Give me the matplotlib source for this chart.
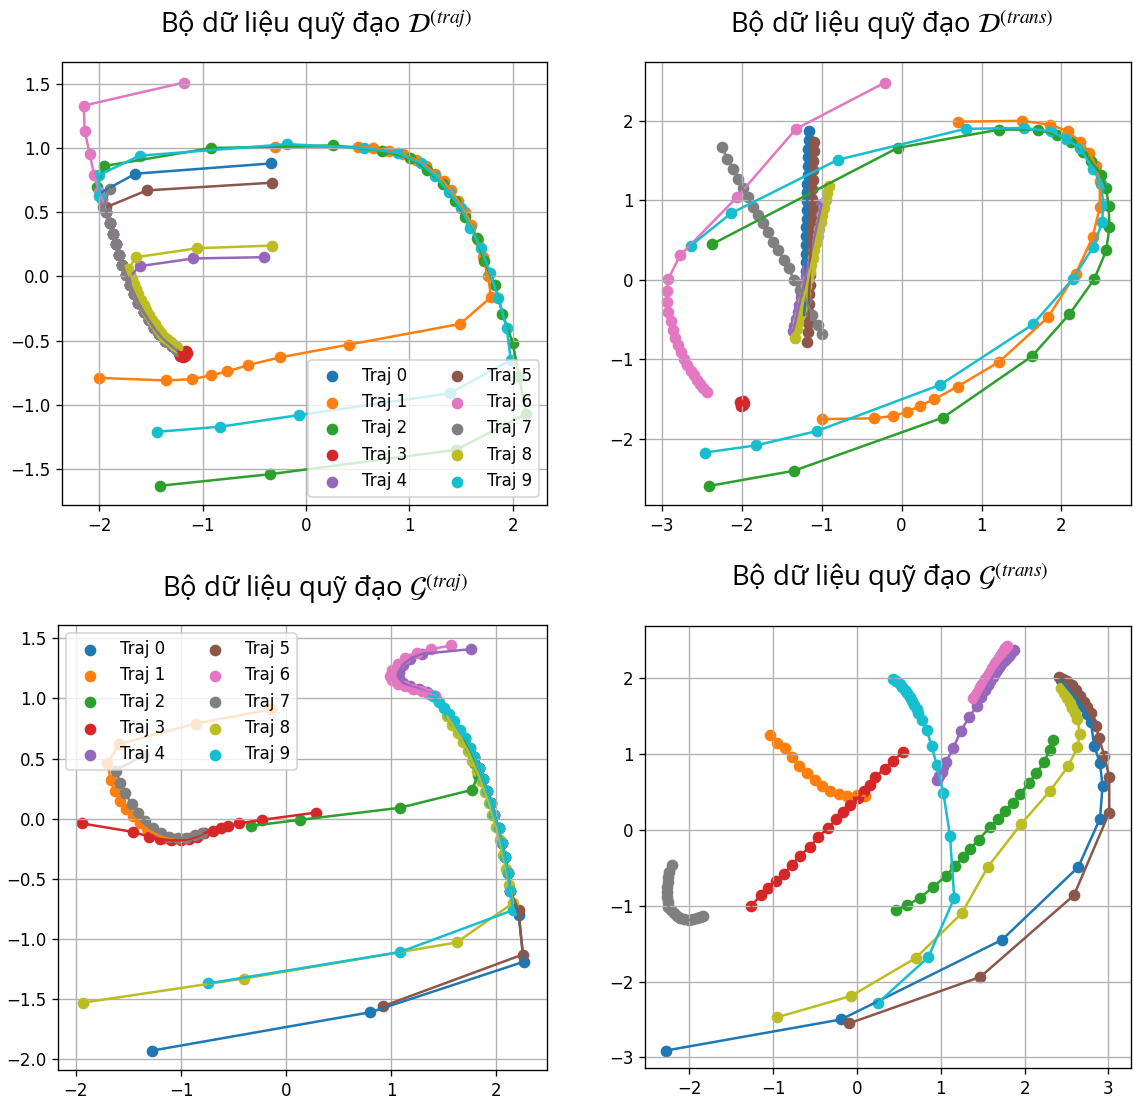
import matplotlib
matplotlib.use("Agg")
import matplotlib.pyplot as plt

plt.rcParams["mathtext.fontset"] = "stix"

COLORS = ["#1f77b4", "#ff7f0e", "#2ca02c", "#d62728", "#9467bd",
          "#8c564b", "#e377c2", "#7f7f7f", "#bcbd22", "#17becf"]
LABELS = [f"Traj {i}" for i in range(10)]

TITLES = [
    r"Bộ dữ liệu quỹ đạo $\mathcal{D}^{(traj)}$",
    r"Bộ dữ liệu quỹ đạo $\mathcal{D}^{(trans)}$",
    r"Bộ dữ liệu quỹ đạo $\mathcal{G}^{(traj)}$",
    r"Bộ dữ liệu quỹ đạo $\mathcal{G}^{(trans)}$",
]

# ---------------------------------------------------------------------------
# Panel A : D(traj)
# ---------------------------------------------------------------------------
# shared descending path on the left
CA_X = [-1.97, -1.93, -1.90, -1.87, -1.84, -1.81, -1.78, -1.74, -1.70, -1.66,
        -1.62, -1.57, -1.52, -1.47, -1.42, -1.36, -1.30, -1.25]
CA_Y = [0.60, 0.50, 0.42, 0.33, 0.25, 0.17, 0.09, 0.01, -0.07, -0.14,
        -0.21, -0.28, -0.34, -0.40, -0.45, -0.50, -0.54, -0.57]

A_X = [
    [-0.34, -1.65, -1.99] + CA_X,
    [-2.00, -1.35, -1.10, -0.92, -0.76, -0.56, -0.25, 0.42, 1.49, 1.79, 1.76, 1.71,
     1.66, 1.60, 1.54, 1.47, 1.40, 1.33, 1.25, 1.16, 1.06, 0.94, 0.80, 0.65, 0.50, -0.30],
    [-1.41, -0.35, 1.45, 2.13, 2.06, 2.00, 1.90, 1.83, 1.72, 1.65, 1.54, 1.44, 1.32,
     1.17, 1.01, 0.73, 0.26, -0.92, -1.95, -2.02],
    [-1.24, -1.21, -1.18, -1.15, -1.22, -1.17, -1.20, -1.16, -1.23, -1.19],
    [-0.41, -1.09, -1.61, -1.70] + CA_X[8:],
    [-0.33, -1.54, -1.93] + CA_X[1:],
    [-1.18, -2.15, -2.14, -2.09, -2.05, -2.00] + CA_X,
    [-1.90, -1.96] + CA_X[1:],
    [-0.33, -1.05, -1.64, -1.72, -1.70, -1.68, -1.66, -1.64, -1.62, -1.60, -1.57,
     -1.55, -1.52, -1.49, -1.46, -1.43, -1.40, -1.37, -1.34, -1.31, -1.28, -1.25],
    [-1.44, -0.83, -0.07, 1.39, 1.98, 1.94, 1.86, 1.78, 1.69, 1.59, 1.50, 1.38, 1.25,
     1.11, 0.89, 0.56, -0.18, -1.61, -2.00, -2.00],
]
A_Y = [
    [0.88, 0.80, 0.65] + CA_Y,
    [-0.79, -0.81, -0.80, -0.77, -0.74, -0.69, -0.63, -0.53, -0.37, -0.16, 0.00, 0.15,
     0.28, 0.40, 0.50, 0.59, 0.67, 0.74, 0.80, 0.86, 0.91, 0.95, 0.98, 1.00, 1.01, 1.01],
    [-1.63, -1.54, -1.35, -1.07, -0.78, -0.52, -0.29, -0.07, 0.12, 0.30, 0.46, 0.59, 0.72,
     0.83, 0.92, 0.98, 1.02, 1.00, 0.86, 0.70],
    [-0.58, -0.60, -0.59, -0.60, -0.62, -0.62, -0.61, -0.58, -0.60, -0.63],
    [0.15, 0.14, 0.08, 0.00] + CA_Y[8:],
    [0.73, 0.67, 0.54] + CA_Y[1:],
    [1.51, 1.33, 1.13, 0.95, 0.79, 0.66] + CA_Y,
    [0.68, 0.54] + CA_Y[1:],
    [0.24, 0.22, 0.15, 0.06, 0.02, -0.02, -0.06, -0.10, -0.14, -0.18, -0.22,
     -0.26, -0.30, -0.34, -0.37, -0.41, -0.44, -0.47, -0.49, -0.51, -0.53, -0.55],
    [-1.21, -1.17, -1.08, -0.91, -0.65, -0.40, -0.17, 0.03, 0.22, 0.38, 0.53, 0.66, 0.78,
     0.88, 0.96, 1.00, 1.03, 0.94, 0.79, 0.63],
]

# ---------------------------------------------------------------------------
# Panel B : D(trans)
# ---------------------------------------------------------------------------
B_X = [
    [-1.16, -1.16, -1.17, -1.17, -1.17, -1.17, -1.18, -1.18, -1.18, -1.18, -1.18,
     -1.19, -1.19, -1.19, -1.19, -1.20, -1.20, -1.20, -1.21, -1.21, -1.21, -1.22],
    [0.71, 1.51, 1.86, 2.08, 2.23, 2.35, 2.43, 2.48, 2.48, 2.39, 2.18, 1.83, 1.22, 0.70,
     0.41, 0.23, 0.07, -0.11, -0.35, -0.99],
    [-2.37, -0.05, 1.22, 1.70, 1.95, 2.12, 2.27, 2.37, 2.50, 2.56, 2.59, 2.60, 2.56, 2.41,
     2.10, 1.63, 0.52, -1.35, -2.41],
    [-2.02, -1.99, -1.97, -2.01, -1.98, -2.00],
    [-1.00, -1.02, -1.04, -1.06, -1.08, -1.10, -1.12, -1.14, -1.16, -1.18, -1.20,
     -1.22, -1.24, -1.26, -1.28, -1.30, -1.32, -1.34, -1.36],
    [-1.10, -1.10, -1.11, -1.11, -1.11, -1.12, -1.12, -1.12, -1.13, -1.13, -1.13,
     -1.14, -1.14, -1.14, -1.15, -1.15, -1.16, -1.16, -1.16, -1.17, -1.17, -1.18],
    [-0.21, -1.32, -2.06, -2.77, -2.92, -2.94, -2.94, -2.92, -2.89, -2.86, -2.83, -2.80,
     -2.76, -2.72, -2.68, -2.64, -2.60, -2.56, -2.52, -2.48, -2.44],
    [-2.25, -2.18, -2.11, -2.05, -1.99, -1.92, -1.86, -1.80, -1.74, -1.67, -1.61, -1.55,
     -1.47, -1.41, -1.35, -1.27, -1.20, -1.12, -1.05, -0.99],
    [-0.91, -0.93, -0.95, -0.97, -0.99, -1.01, -1.03, -1.05, -1.07, -1.09, -1.11,
     -1.13, -1.15, -1.17, -1.19, -1.21, -1.23, -1.25, -1.27, -1.29, -1.31, -1.33],
    [-2.64, -2.13, -0.80, 0.80, 1.53, 1.87, 2.06, 2.23, 2.39, 2.50, 2.52, 2.51, 2.40, 2.14,
     1.64, 0.48, -1.06, -1.82, -2.46],
]
B_Y = [
    [1.87, 1.76, 1.65, 1.54, 1.43, 1.32, 1.21, 1.10, 0.99, 0.88, 0.77,
     0.66, 0.55, 0.44, 0.33, 0.22, 0.11, 0.00, -0.11, -0.22, -0.33, -0.44],
    [1.99, 2.00, 1.95, 1.87, 1.74, 1.60, 1.43, 1.24, 0.92, 0.54, 0.08, -0.47, -1.03, -1.34,
     -1.50, -1.58, -1.66, -1.71, -1.74, -1.75],
    [0.45, 1.66, 1.89, 1.89, 1.82, 1.74, 1.61, 1.49, 1.32, 1.15, 0.93, 0.67, 0.37, 0.01,
     -0.43, -0.96, -1.73, -2.40, -2.59],
    [-1.53, -1.52, -1.55, -1.58, -1.57, -1.55],
    [0.95, 0.86, 0.77, 0.68, 0.59, 0.50, 0.41, 0.32, 0.23, 0.14, 0.05,
     -0.04, -0.13, -0.22, -0.31, -0.40, -0.49, -0.58, -0.64],
    [1.74, 1.62, 1.50, 1.38, 1.26, 1.14, 1.02, 0.90, 0.78, 0.66, 0.54,
     0.42, 0.30, 0.18, 0.06, -0.06, -0.18, -0.30, -0.42, -0.54, -0.66, -0.78],
    [2.48, 1.90, 1.04, 0.31, 0.01, -0.14, -0.28, -0.40, -0.52, -0.63, -0.73, -0.82,
     -0.91, -1.00, -1.07, -1.14, -1.20, -1.26, -1.31, -1.36, -1.41],
    [1.67, 1.52, 1.40, 1.27, 1.15, 1.04, 0.92, 0.82, 0.71, 0.60, 0.48, 0.38,
     0.25, 0.15, 0.00, -0.13, -0.25, -0.44, -0.57, -0.68],
    [1.18, 1.09, 1.00, 0.91, 0.82, 0.73, 0.64, 0.55, 0.46, 0.37, 0.28,
     0.19, 0.10, 0.01, -0.08, -0.17, -0.26, -0.35, -0.44, -0.53, -0.62, -0.73],
    [0.43, 0.84, 1.51, 1.90, 1.91, 1.87, 1.77, 1.66, 1.40, 1.21, 0.96, 0.73, 0.42, 0.01,
     -0.56, -1.32, -1.90, -2.08, -2.17],
]

# ---------------------------------------------------------------------------
# Panel C : G(traj)
# ---------------------------------------------------------------------------
# shared path on the right side
CC_X = [2.16, 2.13, 2.11, 2.08, 2.05, 2.02, 1.98, 1.95, 1.91, 1.87,
        1.83, 1.79, 1.75, 1.70, 1.65, 1.60, 1.55, 1.50, 1.45, 1.40]
CC_Y = [-0.76, -0.60, -0.45, -0.32, -0.20, -0.08, 0.03, 0.13, 0.23, 0.33,
        0.42, 0.51, 0.59, 0.67, 0.74, 0.81, 0.87, 0.92, 0.97, 1.02]

C_X = [
    [-1.28, 0.80, 2.26, 2.21] + CC_X[1:14],
    [-0.14, -0.86, -1.59, -1.70, -1.67, -1.63, -1.58, -1.52, -1.46, -1.39, -1.32,
     -1.24, -1.16, -1.08, -1.00, -0.92],
    [-0.33, 0.13, 1.08, 1.77, 1.82, 1.79, 1.74, 1.69],
    [-1.94, -1.46, -1.30, -1.20, -1.10, -1.00, -0.92, -0.85, -0.78, -0.70, -0.62,
     -0.55, -0.45, -0.23, 0.28],
    [1.76, 1.29, 1.18, 1.11, 1.07, 1.07, 1.11, 1.18, 1.26, 1.34, 1.42],
    [0.92, 2.25, 2.21] + CC_X[1:12],
    [1.57, 1.38, 1.24, 1.13, 1.06, 1.01, 0.99, 1.01, 1.06, 1.13, 1.21, 1.29, 1.36, 1.42],
    [-1.35, -1.62, -1.58, -1.53, -1.47, -1.41, -1.34, -1.27, -1.19, -1.11, -1.03,
     -0.95, -0.87, -0.80],
    [-1.93, -0.40, 1.62, 2.16, 2.12, 2.09, 2.06, 2.03, 2.00, 1.96, 1.93, 1.89, 1.85,
     1.81, 1.77, 1.73, 1.68, 1.63, 1.58, 1.53],
    [-0.74, 1.08] + CC_X,
]
C_Y = [
    [-1.93, -1.61, -1.19, -0.80] + CC_Y[1:14],
    [0.91, 0.79, 0.62, 0.46, 0.32, 0.23, 0.15, 0.08, 0.02, -0.04, -0.09,
     -0.13, -0.16, -0.17, -0.17, -0.16],
    [-0.06, -0.01, 0.09, 0.24, 0.36, 0.46, 0.56, 0.65],
    [-0.04, -0.11, -0.15, -0.17, -0.18, -0.18, -0.17, -0.15, -0.12, -0.10, -0.08,
     -0.06, -0.04, -0.01, 0.05],
    [1.41, 1.37, 1.33, 1.28, 1.22, 1.17, 1.13, 1.10, 1.08, 1.05, 1.02],
    [-1.56, -1.13, -0.76] + CC_Y[1:12],
    [1.44, 1.41, 1.38, 1.34, 1.29, 1.24, 1.19, 1.15, 1.12, 1.10, 1.08, 1.06, 1.04, 1.02],
    [0.53, 0.40, 0.30, 0.21, 0.12, 0.05, -0.02, -0.08, -0.12, -0.15, -0.16,
     -0.16, -0.14, -0.12],
    [-1.53, -1.33, -1.03, -0.70, -0.55, -0.42, -0.30, -0.18, -0.07, 0.03, 0.13, 0.22,
     0.31, 0.40, 0.48, 0.56, 0.64, 0.71, 0.78, 0.85],
    [-1.37, -1.11] + CC_Y,
]

# ---------------------------------------------------------------------------
# Panel D : G(trans)
# ---------------------------------------------------------------------------
D_X = [
    [2.43, 2.49, 2.55, 2.62, 2.69, 2.74, 2.79, 2.83, 2.90, 2.93, 2.90, 2.64, 1.73,
     -0.19, -2.28],
    [-1.04, -0.95, -0.86, -0.78, -0.69, -0.60, -0.50, -0.42, -0.32, -0.22, -0.12,
     0.00, 0.09],
    [2.34, 2.30, 2.23, 2.14, 2.05, 1.95, 1.86, 1.77, 1.68, 1.59, 1.45, 1.35, 1.26,
     1.17, 1.06, 0.91, 0.75, 0.60, 0.47],
    [-1.26, -1.15, -1.06, -0.97, -0.87, -0.78, -0.68, -0.56, -0.46, -0.35, -0.25,
     -0.17, -0.08, 0.01, 0.08, 0.15, 0.22, 0.33, 0.43, 0.55],
    [1.87, 1.84, 1.81, 1.78, 1.75, 1.72, 1.70, 1.67, 1.65, 1.62, 1.59, 1.56, 1.53,
     1.48, 1.43, 1.34, 1.24, 1.15, 1.06, 1.03, 1.01, 0.98, 0.95],
    [2.41, 2.46, 2.51, 2.56, 2.61, 2.66, 2.71, 2.75, 2.79, 2.85, 2.89, 2.95, 3.01,
     3.01, 2.59, 1.47, -0.09],
    [1.79, 1.77, 1.75, 1.73, 1.71, 1.69, 1.67, 1.65, 1.63, 1.61, 1.59, 1.57, 1.55,
     1.53, 1.51, 1.49, 1.47, 1.45, 1.43, 1.41, 1.39],
    [-2.21, -2.24, -2.25, -2.26, -2.27, -2.27, -2.27, -2.26, -2.25, -2.22, -2.19,
     -2.15, -2.11, -2.06, -2.01, -1.96, -1.91, -1.87, -1.84],
    [2.43, 2.47, 2.51, 2.54, 2.57, 2.60, 2.63, 2.66, 2.63, 2.52, 2.30, 1.96, 1.56,
     1.25, 0.70, -0.07, -0.95],
    [0.43, 0.47, 0.51, 0.54, 0.57, 0.60, 0.63, 0.66, 0.68, 0.71, 0.73, 0.77, 0.83,
     0.89, 0.95, 1.03, 1.11, 1.16, 0.85, 0.25],
]
D_Y = [
    [1.98, 1.90, 1.82, 1.73, 1.63, 1.53, 1.43, 1.11, 0.88, 0.58, 0.15, -0.49, -1.45,
     -2.50, -2.91],
    [1.25, 1.15, 1.08, 0.96, 0.85, 0.75, 0.66, 0.58, 0.52, 0.47, 0.45, 0.46, 0.45],
    [1.18, 1.06, 0.89, 0.75, 0.62, 0.48, 0.36, 0.25, 0.14, 0.04, -0.13, -0.25, -0.36,
     -0.47, -0.61, -0.75, -0.90, -0.99, -1.06],
    [-1.00, -0.86, -0.76, -0.67, -0.58, -0.46, -0.34, -0.22, -0.09, 0.02, 0.14,
     0.24, 0.33, 0.42, 0.51, 0.59, 0.70, 0.81, 0.91, 1.03],
    [2.37, 2.33, 2.30, 2.26, 2.23, 2.19, 2.15, 2.11, 2.07, 2.02, 1.96, 1.91, 1.85,
     1.75, 1.64, 1.49, 1.31, 1.08, 0.89, 0.83, 0.77, 0.71, 0.66],
    [2.02, 1.99, 1.96, 1.91, 1.85, 1.77, 1.69, 1.62, 1.54, 1.37, 1.21, 0.98, 0.70,
     0.23, -0.86, -1.94, -2.55],
    [2.43, 2.40, 2.37, 2.33, 2.30, 2.27, 2.23, 2.20, 2.16, 2.13, 2.09, 2.06, 2.02,
     1.99, 1.95, 1.92, 1.88, 1.85, 1.81, 1.77, 1.74],
    [-0.46, -0.55, -0.62, -0.69, -0.75, -0.82, -0.88, -0.95, -1.01, -1.06, -1.10,
     -1.14, -1.16, -1.18, -1.19, -1.18, -1.16, -1.15, -1.13],
    [1.87, 1.80, 1.74, 1.67, 1.61, 1.54, 1.47, 1.27, 1.09, 0.84, 0.51, 0.08, -0.49,
     -1.10, -1.69, -2.19, -2.47],
    [1.99, 1.96, 1.93, 1.89, 1.85, 1.81, 1.76, 1.70, 1.65, 1.60, 1.54, 1.45, 1.32,
     1.11, 0.86, 0.49, -0.08, -0.90, -1.68, -2.28],
]

PANELS = [
    (A_X, A_Y, [0.0546, 0.5413, 0.4273, 0.4024], (-2.36, 2.33), (-1.78, 1.67), "lower right"),
    (B_X, B_Y, [0.5683, 0.5413, 0.4282, 0.4024], (-3.21, 2.87), (-2.83, 2.74), None),
    (C_X, C_Y, [0.0511, 0.0282, 0.4308, 0.4041], (-2.17, 2.48), (-2.09, 1.61), "upper left"),
    (D_X, D_Y, [0.5683, 0.0300, 0.4282, 0.4014], (-2.53, 3.27), (-3.14, 2.69), None),
]
TITLE_POS = [(316, 25), (892, 25), (315, 589), (890, 578)]

W, H = 1135, 1101
fig = plt.figure(figsize=(W / 120, H / 120), dpi=120)

for (xs, ys, rect, xl, yl, loc), title, (tx, ty) in zip(PANELS, TITLES, TITLE_POS):
    ax = fig.add_axes(rect)
    for i, (x, y) in enumerate(zip(xs, ys)):
        ax.scatter(x, y, color=COLORS[i], label=LABELS[i])
        ax.plot(x, y, color=COLORS[i])
    ax.set_xlim(*xl)
    ax.set_ylim(*yl)
    ax.grid(True)
    if loc:
        ax.legend(ncol=2, loc=loc)
    fig.text(tx / W, 1 - ty / H, title, ha="center", va="center",
             fontsize=16.5, family=["Open Sans", "DejaVu Sans"])

fig.savefig("out.png", dpi=120)
